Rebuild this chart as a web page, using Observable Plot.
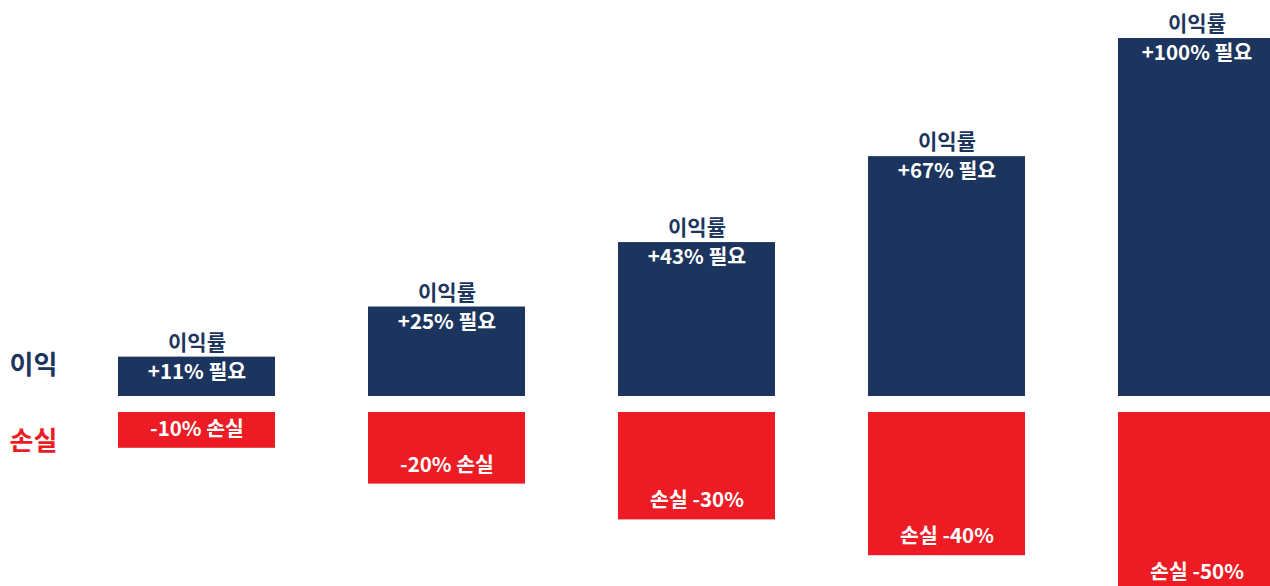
<!DOCTYPE html>
<html>
<head>
<meta charset="utf-8">
<script src="https://cdn.jsdelivr.net/npm/d3@7"></script>
<script src="https://cdn.jsdelivr.net/npm/@observablehq/plot@0.6"></script>
<style>
  html, body { margin: 0; padding: 0; background: #ffffff; }
  #chart { width: 1270px; height: 586px; overflow: hidden; }
  svg { font-family: "Noto Sans CJK KR", "Noto Sans", sans-serif; }
</style>
</head>
<body>
<div id="chart"></div>
<script>
const categories = ["A", "B", "C", "D", "E"];
const lossValues = [10, 20, 30, 40, 50];
const gainValues = [11, 25, 43, 67, 100];
const gainLabels = ["+11% 필요", "+25% 필요", "+43% 필요", "+67% 필요", "+100% 필요"];
const lossLabels = ["-10% 손실", "-20% 손실", "손실 -30%", "손실 -40%", "손실 -50%"];
const gainTitle = "이익률";
const sideLabels = ["이익", "손실"];

const navy = "#1c355e";
const red = "#ed1c24";
const GAP = 16;

const data = categories.map((c, i) => ({
  cat: c, gain: gainValues[i], loss: lossValues[i],
  gainLabel: gainLabels[i], lossLabel: lossLabels[i]
}));

const chart = Plot.plot({
  width: 1270,
  height: 586,
  marginLeft: 117,
  marginRight: 0,
  marginTop: 38,
  marginBottom: 0,
  x: { domain: categories, range: [117, 1275], paddingInner: 0.3726, paddingOuter: 0, axis: null },
  y: { domain: [-53.07, 100], axis: null },
  marks: [
    Plot.barY(data, { x: "cat", y1: 0, y2: "gain", fill: navy }),
    Plot.barY(data, { x: "cat", y1: 0, y2: d => -d.loss, fill: red, dy: GAP }),
    Plot.text(data, { x: "cat", y: "gain", text: () => gainTitle, dy: -14, lineAnchor: "middle",
      fill: navy, fontSize: 21, fontWeight: "bold" }),
    Plot.text(data, { x: "cat", y: "gain", text: "gainLabel", dy: 15, lineAnchor: "middle",
      fill: "white", fontSize: 20.5, fontWeight: "bold" }),
    Plot.text(data, { x: "cat", y: d => -d.loss, text: "lossLabel", dy: GAP - 19, lineAnchor: "middle",
      fill: "white", fontSize: 20.5, fontWeight: "bold" }),
    Plot.text([sideLabels[0]], { frameAnchor: "left", y: () => 0, text: d => d, dx: -108, dy: -31,
      textAnchor: "start", lineAnchor: "middle", fill: navy, fontSize: 26, fontWeight: "bold" }),
    Plot.text([sideLabels[1]], { frameAnchor: "left", y: () => 0, text: d => d, dx: -108, dy: 45,
      textAnchor: "start", lineAnchor: "middle", fill: red, fontSize: 26, fontWeight: "bold" })
  ]
});
document.getElementById("chart").appendChild(chart);
</script>
</body>
</html>
